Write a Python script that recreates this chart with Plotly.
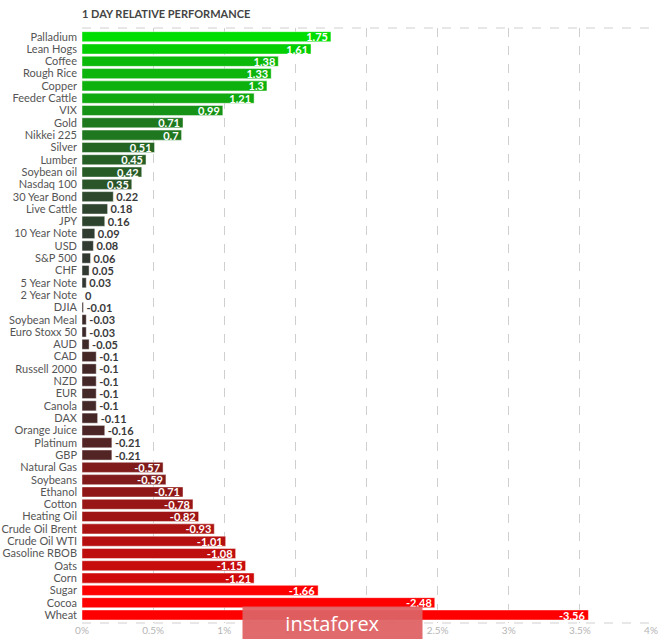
import plotly.graph_objects as go

categories = ["Palladium", "Lean Hogs", "Coffee", "Rough Rice", "Copper", "Feeder Cattle", "VIX",
              "Gold", "Nikkei 225", "Silver", "Lumber", "Soybean oil", "Nasdaq 100", "30 Year Bond",
              "Live Cattle", "JPY", "10 Year Note", "USD", "S&P 500", "CHF", "5 Year Note",
              "2 Year Note", "DJIA", "Soybean Meal", "Euro Stoxx 50", "AUD", "CAD", "Russell 2000",
              "NZD", "EUR", "Canola", "DAX", "Orange Juice", "Platinum", "GBP", "Natural Gas",
              "Soybeans", "Ethanol", "Cotton", "Heating Oil", "Crude Oil Brent", "Crude Oil WTI",
              "Gasoline RBOB", "Oats", "Corn", "Sugar", "Cocoa", "Wheat"]
values = [1.75, 1.61, 1.38, 1.33, 1.3, 1.21, 0.99, 0.71, 0.7, 0.51, 0.45, 0.42, 0.35, 0.22,
          0.18, 0.16, 0.09, 0.08, 0.06, 0.05, 0.03, 0, -0.01, -0.03, -0.03, -0.05, -0.1, -0.1,
          -0.1, -0.1, -0.1, -0.11, -0.16, -0.21, -0.21, -0.57, -0.59, -0.71, -0.78, -0.82, -0.93,
          -1.01, -1.08, -1.15, -1.21, -1.66, -2.48, -3.56]
tick_vals = [0, 0.5, 1, 1.5, 2, 2.5, 3, 3.5, 4]
tick_text = ["0%", "0.5%", "1%", "1.5%", "2%", "2.5%", "3%", "3.5%", "4%"]
title_text = "1 DAY RELATIVE PERFORMANCE"
watermark = "instaforex"


def bar_color(v):
    if v >= 0:
        t = min(v / 1.75, 1.0)
        base = (0x33, 0x33, 0x33)
        top = (0x00, 0xdd, 0x00)
    else:
        t = min(-v / 1.6, 1.0)
        base = (0x38, 0x2a, 0x2a)
        top = (0xff, 0x00, 0x00)
    r, g, b = (round(base[i] + t * (top[i] - base[i])) for i in range(3))
    return f"rgb({r},{g},{b})"


colors = [bar_color(v) for v in values]
labels = [f"{v:g}" for v in values]
positions = ["inside" if abs(v) >= 0.3 else "outside" for v in values]

fig = go.Figure(go.Bar(
    x=[abs(v) for v in values],
    y=categories,
    orientation="h",
    marker=dict(color=colors, line=dict(color="rgba(255,255,255,0.45)", width=1)),
    text=labels,
    textposition=positions,
    insidetextanchor="end",
    insidetextfont=dict(color="white", size=11, family="Lato", weight="bold"),
    outsidetextfont=dict(color="#3a3a3a", size=11, family="Lato", weight="bold"),
    cliponaxis=False,
    hoverinfo="skip",
))

fig.update_layout(
    width=665, height=639,
    margin=dict(l=82, r=14, t=28, b=16, autoexpand=False),
    paper_bgcolor="white", plot_bgcolor="white",
    bargap=0.18,
    showlegend=False,
    font=dict(family="Lato", color="#555"),
    uniformtext=dict(minsize=11, mode="show"),
    title=dict(text=f"<b>{title_text}</b>", x=82 / 665, xanchor="left", xref="container",
               y=1 - 14 / 639, yanchor="middle", yref="container",
               font=dict(family="Lato", size=11, color="#444")),
    xaxis=dict(range=[0, 4], tickvals=tick_vals, ticktext=tick_text, showgrid=True,
               gridcolor="#cfcfcf", griddash="dash", gridwidth=1, zeroline=False,
               showline=False, ticks="", automargin=False,
               tickfont=dict(size=10, color="#b5b5b5", family="Lato")),
    yaxis=dict(range=[47.65, -0.707], showgrid=False, zeroline=False, ticks="",
               tickmode="linear", dtick=1, tick0=0, automargin=False,
               tickfont=dict(size=11, color="#555", family="Lato"), ticklabelstandoff=4),
    shapes=[
        dict(type="line", xref="paper", yref="paper", x0=0, x1=1, y0=1, y1=1,
             line=dict(color="#cfcfcf", width=1, dash="dash")),
        dict(type="line", xref="paper", yref="paper", x0=0, x1=1, y0=0, y1=0,
             line=dict(color="#cfcfcf", width=1, dash="dash")),
    ],
    annotations=[
        dict(text=watermark, xref="paper", yref="paper", x=(332.5 - 82) / 569, y=0,
             xanchor="center", yanchor="middle", showarrow=False,
             bgcolor="rgba(222,98,100,0.95)", width=175, height=28, borderpad=2,
             font=dict(size=20, color="white", family="Open Sans")),
    ],
)

fig.write_html("out.html")
